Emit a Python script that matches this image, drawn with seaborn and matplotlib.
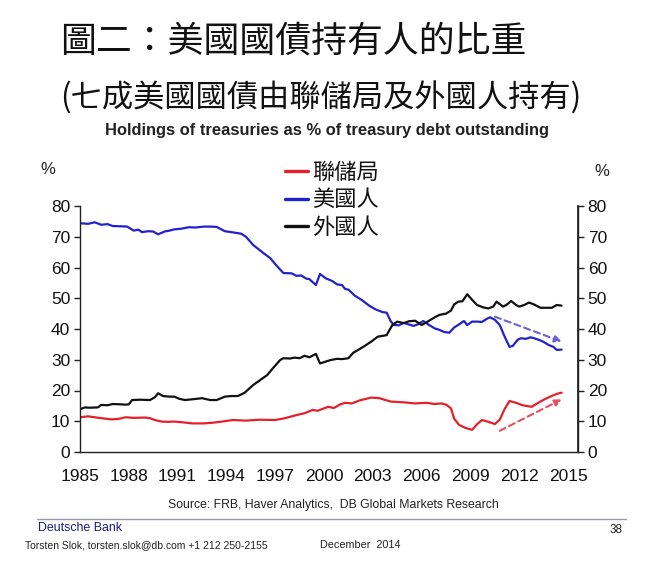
import matplotlib
matplotlib.use("Agg")
import matplotlib.pyplot as plt
import seaborn as sns
import pandas as pd
from matplotlib.lines import Line2D

# ---------------- data ----------------
us_years = [1985.0, 1985.5, 1985.9, 1986.3, 1986.7, 1987.0, 1987.5, 1987.9, 1988.3, 1988.6,
            1988.8, 1989.2, 1989.5, 1989.8, 1990.2, 1990.5, 1990.8, 1991.2, 1991.7, 1992.1,
            1992.6, 1993.0, 1993.4, 1993.9, 1994.3, 1994.9, 1995.2, 1995.65, 1996.2, 1996.7,
            1997.1, 1997.5, 1998.0, 1998.3, 1998.6, 1998.9, 1999.1, 1999.5, 1999.75, 2000.1,
            2000.5, 2000.8, 2001.1, 2001.3, 2001.5, 2001.9, 2002.3, 2002.8, 2003.2, 2003.6,
            2003.85, 2004.1, 2004.3, 2004.6, 2004.9, 2005.2, 2005.5, 2005.8, 2006.1, 2006.4,
            2006.8, 2007.1, 2007.4, 2007.7, 2008.0, 2008.3, 2008.6, 2008.8, 2009.1, 2009.4,
            2009.7, 2010.0, 2010.2, 2010.5, 2010.8, 2011.1, 2011.4, 2011.6, 2011.9, 2012.1,
            2012.4, 2012.7, 2012.9, 2013.2, 2013.5, 2013.8, 2014.1, 2014.3, 2014.6]
us_vals = [74.4, 74.2, 74.7, 73.9, 74.1, 73.5, 73.4, 73.3, 72.0, 72.3,
           71.5, 71.8, 71.7, 70.8, 71.7, 72.0, 72.4, 72.6, 73.1, 73.0,
           73.3, 73.3, 73.2, 71.8, 71.5, 71.0, 70.0, 67.3, 65.0, 63.0,
           60.5, 58.2, 58.1, 57.3, 57.4, 56.4, 56.2, 54.3, 57.9, 56.5,
           55.6, 54.5, 54.3, 53.0, 52.8, 50.8, 49.5, 47.5, 46.3, 45.5,
           45.3, 42.5, 41.3, 41.2, 42.0, 41.5, 41.0, 41.6, 42.6, 41.5,
           40.2, 39.7, 39.0, 38.8, 40.5, 41.5, 42.6, 41.3, 42.4, 42.4,
           42.3, 43.3, 43.8, 43.0, 41.3, 37.5, 34.2, 34.5, 36.5, 37.0,
           36.8, 37.3, 37.0, 36.5, 35.8, 34.8, 34.2, 33.2, 33.3]

foreign_years = [1985.0, 1985.3, 1985.6, 1986.1, 1986.3, 1986.7, 1987.0, 1987.5, 1987.8, 1988.0,
                 1988.2, 1988.7, 1989.3, 1989.6, 1989.8, 1990.1, 1990.5, 1990.8, 1991.1, 1991.45,
                 1992.0, 1992.5, 1993.0, 1993.4, 1993.9, 1994.3, 1994.7, 1995.1, 1995.65, 1996.1,
                 1996.5, 1996.9, 1997.3, 1997.5, 1997.9, 1998.2, 1998.5, 1998.8, 1999.1, 1999.5,
                 1999.75, 2000.1, 2000.4, 2000.8, 2001.1, 2001.5, 2001.8, 2002.1, 2002.5, 2002.9,
                 2003.3, 2003.85, 2004.0, 2004.2, 2004.5, 2004.9, 2005.2, 2005.6, 2006.0, 2006.4,
                 2006.8, 2007.1, 2007.5, 2007.8, 2008.0, 2008.25, 2008.5, 2008.8, 2009.1, 2009.4,
                 2009.8, 2010.1, 2010.4, 2010.6, 2011.0, 2011.2, 2011.5, 2011.8, 2012.0, 2012.3,
                 2012.6, 2012.9, 2013.3, 2013.7, 2014.0, 2014.3, 2014.6]
foreign_vals = [13.9, 14.5, 14.4, 14.5, 15.3, 15.2, 15.6, 15.5, 15.4, 15.5,
                16.9, 17.0, 16.9, 17.8, 19.1, 18.2, 18.0, 18.0, 17.3, 16.9,
                17.2, 17.5, 16.9, 16.9, 18.0, 18.2, 18.2, 19.2, 21.8, 23.5,
                25.0, 27.5, 29.9, 30.5, 30.4, 30.7, 30.5, 31.3, 30.8, 31.9,
                28.8, 29.4, 29.9, 30.3, 30.2, 30.5, 32.3, 33.2, 34.5, 35.9,
                37.5, 38.0, 39.5, 41.3, 42.4, 41.9, 42.5, 42.7, 41.3, 42.5,
                43.8, 44.6, 45.0, 46.0, 48.0, 48.9, 49.0, 51.3, 49.5, 47.8,
                47.0, 46.7, 47.3, 48.9, 47.3, 47.8, 49.1, 47.8, 47.3, 47.8,
                48.6, 48.0, 46.9, 46.9, 46.9, 47.8, 47.6]

fed_years = [1985.0, 1985.5, 1985.9, 1986.3, 1986.95, 1987.4, 1987.8, 1988.3, 1989.0, 1989.3,
             1989.6, 1990.0, 1990.4, 1990.8, 1991.4, 1991.9, 1992.6, 1993.1, 1993.6, 1994.4,
             1995.2, 1996.0, 1997.0, 1997.6, 1998.3, 1998.8, 1999.3, 1999.6, 2000.26, 2000.6,
             2001.0, 2001.3, 2001.7, 2002.2, 2002.9, 2003.4, 2004.1, 2004.8, 2005.6, 2006.3,
             2006.8, 2007.2, 2007.5, 2007.8, 2008.0, 2008.3, 2008.7, 2009.1, 2009.4, 2009.7,
             2010.1, 2010.5, 2010.8, 2011.1, 2011.4, 2011.8, 2012.2, 2012.76, 2013.1, 2013.5,
             2013.9, 2014.3, 2014.6]
fed_vals = [11.3, 11.6, 11.3, 11.0, 10.6, 10.8, 11.3, 11.1, 11.2, 11.0,
            10.4, 9.9, 9.8, 9.9, 9.6, 9.3, 9.3, 9.5, 9.8, 10.4,
            10.2, 10.5, 10.4, 11.0, 12.0, 12.6, 13.7, 13.4, 14.7, 14.3,
            15.5, 16.0, 15.8, 16.8, 17.7, 17.5, 16.4, 16.2, 15.8, 16.0,
            15.6, 15.8, 15.4, 14.2, 10.8, 8.8, 7.8, 7.2, 9.0, 10.4,
            9.8, 9.1, 10.5, 14.0, 16.6, 16.0, 15.2, 14.7, 15.8, 17.0,
            18.0, 18.9, 19.3]

series_names = ["聯儲局", "美國人", "外國人"]
x_ticks = list(range(1985, 2016, 3))
y_ticks = list(range(0, 81, 10))

# trend arrows (annotation endpoints: start year, start value, end year, end value)
us_arrow = [2010.5, 44.0, 2014.6, 35.9]
fed_arrow = [2010.8, 6.9, 2014.6, 17.1]

# ---------------- build frame ----------------
df = pd.concat([
    pd.DataFrame({"year": fed_years, "value": fed_vals, "series": series_names[0]}),
    pd.DataFrame({"year": us_years, "value": us_vals, "series": series_names[1]}),
    pd.DataFrame({"year": foreign_years, "value": foreign_vals, "series": series_names[2]}),
], ignore_index=True)

sns.set_theme(style="white")
plt.rcParams['font.family'] = ['Liberation Sans', 'Noto Sans CJK TC', 'DejaVu Sans']

W, H = 650, 561
fig = plt.figure(figsize=(W / 100, H / 100), dpi=100)
fig.patch.set_facecolor("white")

def fx(x):
    return x / W

def fy(y):
    return 1 - y / H

left, right, top, bottom = 80, 578, 206, 452
ax = fig.add_axes([fx(left), fy(bottom), (right - left) / W, (bottom - top) / H])

palette = {series_names[0]: "#e4202a", series_names[1]: "#2222cc", series_names[2]: "#111111"}
sns.lineplot(data=df, x="year", y="value", hue="series", palette=palette,
             estimator=None, sort=True, linewidth=1.6, ax=ax, legend=False)

ax.set_xlim(1985.0, 1985.0 + (right - left) / 16.27)
ax.set_ylim(0, 80)
ax.set_xticks(x_ticks)
ax.set_yticks(y_ticks)
ax.set_xlabel("")
ax.set_ylabel("")
ax.spines["top"].set_visible(False)
for s in ["left", "right", "bottom"]:
    ax.spines[s].set_color("#222222")
    ax.spines[s].set_linewidth(1.0)
ax.tick_params(axis="both", direction="out", length=4, width=1.0, color="#222222",
               labelsize=12.5, labelcolor="#111111", pad=3)
ax.tick_params(axis="x", pad=8)
ax.set_facecolor("white")

ax2 = ax.twinx()
ax2.set_ylim(0, 80)
ax2.set_yticks(y_ticks)
ax2.tick_params(axis="y", direction="out", length=4, width=1.0, color="#222222",
                labelsize=12.5, labelcolor="#111111", pad=3)
for s in ["top", "left", "bottom"]:
    ax2.spines[s].set_visible(False)
ax2.spines["right"].set_color("#222222")
ax2.grid(False)
ax.grid(False)

# arrows
ax.annotate("", xy=(us_arrow[2], us_arrow[3]), xytext=(us_arrow[0], us_arrow[1]),
            arrowprops=dict(arrowstyle="-|>", linestyle=(0, (3, 2)), color="#6a62d8",
                            lw=1.5, mutation_scale=10, shrinkA=0, shrinkB=0))
ax.annotate("", xy=(fed_arrow[2], fed_arrow[3]), xytext=(fed_arrow[0], fed_arrow[1]),
            arrowprops=dict(arrowstyle="-|>", linestyle=(0, (3, 2)), color="#e8505a",
                            lw=1.5, mutation_scale=10, shrinkA=0, shrinkB=0))

# legend
handles = [Line2D([0], [0], color=palette[n], lw=2.4) for n in series_names]
leg = fig.legend(handles, series_names, loc="upper left",
                 bbox_to_anchor=(fx(281), fy(156)), frameon=False,
                 prop={"family": ["Noto Sans CJK TC"], "size": 16, "weight": "medium"},
                 handlelength=1.0, handletextpad=0.2, labelspacing=0.22,
                 borderaxespad=0, borderpad=0.2)
for t in leg.get_texts():
    t.set_color("#111111")

# titles
cjk = ["Noto Sans CJK TC", "DejaVu Sans"]
fig.text(fx(60), fy(42), "圖二：美國國債持有人的比重", family=cjk, fontsize=25.8,
         ha="left", va="center", color="#111111")
fig.text(fx(60), fy(98), "(七成美國國債由聯儲局及外國人持有)", family=cjk, fontsize=22.5,
         ha="left", va="center", color="#111111")
fig.text(fx(327), fy(131), "Holdings of treasuries as % of treasury debt outstanding",
         fontsize=11.9, fontweight="bold", ha="center", va="center", color="#222222")

fig.text(fx(48), fy(170), "%", fontsize=12, ha="center", va="center", color="#222222")
fig.text(fx(602), fy(172), "%", fontsize=12, ha="center", va="center", color="#222222")

fig.text(fx(333), fy(505), "Source: FRB, Haver Analytics,  DB Global Markets Research",
         fontsize=8.8, ha="center", va="center", color="#222222")

fig.add_artist(Line2D([fx(37), fx(626)], [fy(519), fy(519)], color="#9a9aa6", lw=1.0))
fig.text(fx(38), fy(528), "Deutsche Bank", fontsize=8.9, ha="left",
         va="center", color="#1b1b8a")
fig.text(fx(25), fy(545), "Torsten Slok, torsten.slok@db.com +1 212 250-2155",
         fontsize=7.5, ha="left", va="center", color="#222222")
fig.text(fx(320), fy(545), "December  2014", fontsize=7.8, ha="left",
         va="center", color="#222222")
fig.text(fx(623), fy(530), "38", fontsize=8.5, ha="right", va="center",
         color="#222222")

fig.savefig("out.png", dpi=100, facecolor="white")
